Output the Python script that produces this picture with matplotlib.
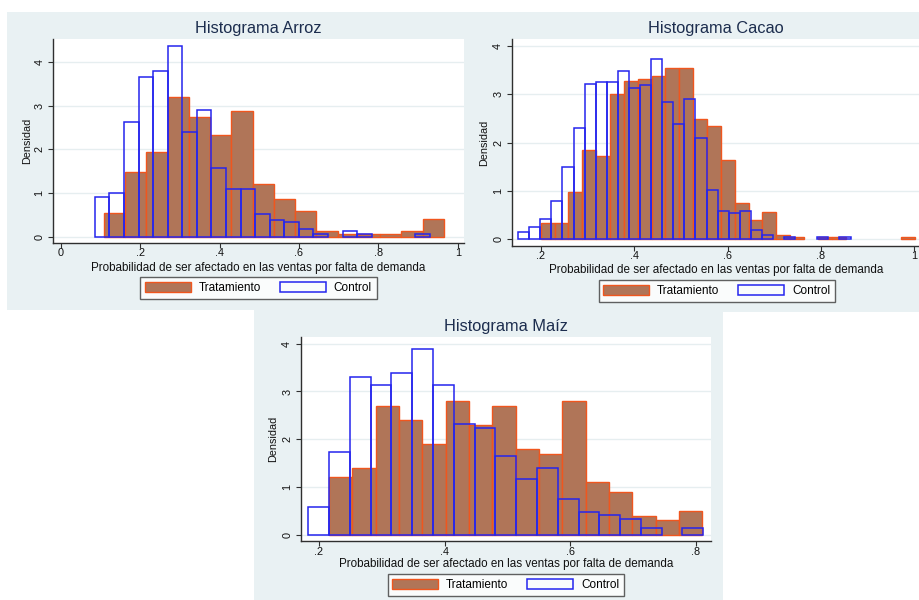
import numpy as np
import matplotlib
matplotlib.use("Agg")
import matplotlib.pyplot as plt
from matplotlib.patches import Rectangle

# ---------------- data (densities) ----------------
arroz_trat_start, arroz_trat_width = 0.109, 0.0535
arroz_trat = [0.535, 1.476, 1.94, 3.21, 2.74, 2.34, 2.88, 1.20, 0.86, 0.60,
              0.13, 0.06, 0.06, 0.06, 0.13, 0.40]
arroz_ctrl_start, arroz_ctrl_width = 0.086, 0.0367
arroz_ctrl = [0.90, 1.00, 2.62, 3.67, 3.81, 4.38, 2.39, 2.91, 1.57, 1.09,
              1.09, 0.53, 0.375, 0.34, 0.18, 0.05, 0, 0.13, 0.05, 0, 0, 0, 0.05]

cacao_trat_start, cacao_trat_width = 0.1994, 0.0297
cacao_trat = [0.345, 0.345, 0.97, 1.855, 1.72, 3.01, 3.28, 3.32, 3.37, 3.54,
              3.54, 2.48, 2.35, 1.64, 0.75, 0.40, 0.57, 0.09, 0.04, 0, 0.04,
              0.04, 0, 0, 0, 0, 0.04]
cacao_ctrl_start, cacao_ctrl_width = 0.151, 0.02375
cacao_ctrl = [0.16, 0.25, 0.41, 0.79, 1.50, 2.30, 3.22, 3.26, 3.26, 3.48,
              3.14, 3.19, 3.73, 2.85, 2.39, 2.90, 2.10, 1.01, 0.59, 0.55,
              0.59, 0.20, 0.08, 0, 0.04, 0, 0, 0.04, 0, 0.04]

maiz_trat_start, maiz_trat_width = 0.216, 0.03715
maiz_trat = [1.20, 1.40, 2.70, 2.40, 1.91, 2.80, 2.30, 2.70, 1.79, 1.70,
             2.80, 1.10, 0.89, 0.40, 0.30, 0.50]
maiz_ctrl_start, maiz_ctrl_width = 0.183, 0.0331
maiz_ctrl = [0.57, 1.73, 3.30, 3.13, 3.38, 3.88, 3.13, 2.31, 2.23, 1.64,
             1.16, 1.40, 0.74, 0.48, 0.41, 0.33, 0.15, 0, 0.15]

series_labels = ["Tratamiento", "Control"]
titles = ["Histograma Arroz", "Histograma Cacao", "Histograma Maíz"]
xlabel_text = "Probabilidad de ser afectado en las ventas por falta de demanda"
ylabel_text = "Densidad"
yticks = [0, 1, 2, 3, 4]
xticks_arroz = [0, 0.2, 0.4, 0.6, 0.8, 1]
xticklabels_arroz = ["0", ".2", ".4", ".6", ".8", "1"]
xticks_cacao = [0.2, 0.4, 0.6, 0.8, 1]
xticklabels_cacao = [".2", ".4", ".6", ".8", "1"]
xticks_maiz = [0.2, 0.4, 0.6, 0.8]
xticklabels_maiz = [".2", ".4", ".6", ".8"]

# ---------------- style ----------------
plt.rcParams['font.family'] = ['Liberation Sans', 'DejaVu Sans']
BG = "#E9F1F3"
GRID = "#E6EEF0"
BROWN = "#B07558"
ORANGE = "#F0561E"
BLUE = "#2525EE"
TITLE_C = "#1C2D4E"
AXIS_C = "#2F2F2F"

W, H = 919, 600
fig = plt.figure(figsize=(W / 100, H / 100), dpi=100)
fig.patch.set_facecolor("white")


def fx(px):
    return px / W


def fy(py):
    return 1 - py / H


# panel backgrounds (graph regions)
for (l, t, r, b) in [(7, 12, 468, 310), (468, 12, 919, 312), (254, 310, 723, 600)]:
    fig.patches.append(Rectangle((fx(l), fy(b)), (r - l) / W, (b - t) / H,
                                 transform=fig.transFigure, facecolor=BG,
                                 edgecolor="none", zorder=-5))


def draw_hist(ax, start, width, dens, **kw):
    dens = np.asarray(dens, float)
    left = start + width * np.arange(len(dens))
    m = dens > 0
    return ax.bar(left[m], dens[m], width=width, align="edge", **kw)


def panel(box, xlim, ylim, xticks, xticklabels, title, title_py, xlabel_py,
          ylabel_px, leg_cx, leg_top, trat, ctrl):
    l, t, r, b = box
    wpx, hpx = r - l, b - t
    ax = fig.add_axes([fx(l), fy(b), wpx / W, hpx / H])
    ax.set_zorder(1)
    ax.set_facecolor("white")
    ax.set_xlim(*xlim)
    ax.set_ylim(*ylim)
    ax.set_axisbelow(True)
    ax.grid(axis="y", color=GRID, lw=1.0)
    ax.grid(axis="x", visible=False)

    bt = draw_hist(ax, *trat, facecolor=BROWN, edgecolor=ORANGE, linewidth=1.0, zorder=2)
    bc = draw_hist(ax, *ctrl, facecolor="none", edgecolor=BLUE, linewidth=1.1, zorder=3)

    for s in ["top", "right"]:
        ax.spines[s].set_visible(False)
    for s in ["left", "bottom"]:
        ax.spines[s].set_color(AXIS_C)
        ax.spines[s].set_linewidth(1.0)

    ax.set_xticks(xticks)
    ax.set_xticklabels(xticklabels)
    ax.set_yticks(yticks)
    ax.set_yticklabels([str(v) for v in yticks])
    ax.tick_params(axis="both", length=3.6, width=0.8, color=AXIS_C,
                   labelsize=7.8, labelcolor="#111111")
    ax.tick_params(axis="x", pad=0.3)
    ax.tick_params(axis="y", labelrotation=90, pad=2.5)
    for lab in ax.get_yticklabels():
        lab.set_va("center")

    ax.set_title(title, fontsize=11.8, color=TITLE_C,
                 y=1 + (t - title_py) / hpx, va="center", pad=0)
    ax.set_xlabel(xlabel_text, fontsize=8.4, color="#111111")
    ax.xaxis.label.set_va("center")
    ax.xaxis.set_label_coords(0.5, (b - xlabel_py) / hpx)
    ax.set_ylabel(ylabel_text, fontsize=7.8, color="#111111")
    ax.yaxis.label.set_va("center")
    ax.yaxis.set_label_coords((ylabel_px - l) / wpx, 0.5)

    leg = ax.legend([bt, bc], series_labels, loc="upper center",
                    bbox_to_anchor=(fx(leg_cx), fy(leg_top)),
                    bbox_transform=fig.transFigure, ncol=2, frameon=True,
                    fancybox=False, edgecolor="#3A3A3A", fontsize=8.5,
                    handlelength=3.9, handleheight=0.95, handletextpad=0.65,
                    columnspacing=1.6, borderpad=0.4, borderaxespad=0)
    leg.get_frame().set_linewidth(1.0)
    leg.get_frame().set_facecolor("white")
    return ax


# Arroz
panel(box=(53, 39, 464, 243), xlim=(-0.0194, 1.0157), ylim=(-0.145, 4.534),
      xticks=xticks_arroz, xticklabels=xticklabels_arroz, title=titles[0],
      title_py=29, xlabel_py=267.5, ylabel_px=27.3, leg_cx=258.4, leg_top=277,
      trat=(arroz_trat_start, arroz_trat_width, arroz_trat),
      ctrl=(arroz_ctrl_start, arroz_ctrl_width, arroz_ctrl))

# Cacao
panel(box=(511.7, 39.3, 921, 246), xlim=(0.1372, 1.0145), ylim=(-0.139, 4.14),
      xticks=xticks_cacao, xticklabels=xticklabels_cacao, title=titles[1],
      title_py=29, xlabel_py=269.8, ylabel_px=484.3, leg_cx=716.7, leg_top=280,
      trat=(cacao_trat_start, cacao_trat_width, cacao_trat),
      ctrl=(cacao_ctrl_start, cacao_ctrl_width, cacao_ctrl))

# Maíz
panel(box=(300.7, 337.3, 710.7, 541.3), xlim=(0.1709, 0.8237), ylim=(-0.138, 4.134),
      xticks=xticks_maiz, xticklabels=xticklabels_maiz, title=titles[2],
      title_py=327, xlabel_py=564, ylabel_px=273.3, leg_cx=505.8, leg_top=574.3,
      trat=(maiz_trat_start, maiz_trat_width, maiz_trat),
      ctrl=(maiz_ctrl_start, maiz_ctrl_width, maiz_ctrl))

fig.savefig("out.png", dpi=100)
